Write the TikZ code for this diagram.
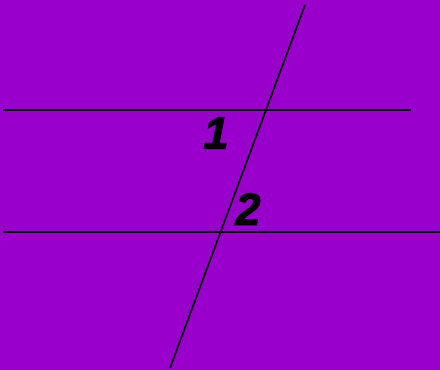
\documentclass[tikz,border=0pt]{standalone}
\usepackage{fontspec}
\setmainfont{Liberation Sans}
\newfontfamily\labelfont{Liberation Sans Bold Italic}[FakeBold=2.5]
\usepackage{xcolor}
\definecolor{bgpurple}{HTML}{9900CC}
\definecolor{ink}{HTML}{000000}
\tikzset{
  every node/.style={text=ink},
  line/.style={draw=ink,line width=1.7pt},
  anglelabel/.style={font=\labelfont\fontsize{45}{45}\selectfont,inner sep=0pt},
}

\begin{document}
\begin{tikzpicture}[x=1pt,y=-1pt]

\fill[bgpurple] (0,0) rectangle (440,370);
\useasboundingbox (0,0) rectangle (440,370);

\coordinate (a1) at (3,110);
\coordinate (a2) at (411,110);
\coordinate (b1) at (3,232);
\coordinate (b2) at (440,232);
\coordinate (t1) at (305,5);
\coordinate (t2) at (170,368);

\draw[line] (a1) -- (a2);
\draw[line] (b1) -- (b2);
\draw[line] (t1) -- (t2);

\node[anglelabel] (one) at (216,133) {1};
\node[anglelabel] (two) at (248,209) {2};

\end{tikzpicture}
\end{document}
